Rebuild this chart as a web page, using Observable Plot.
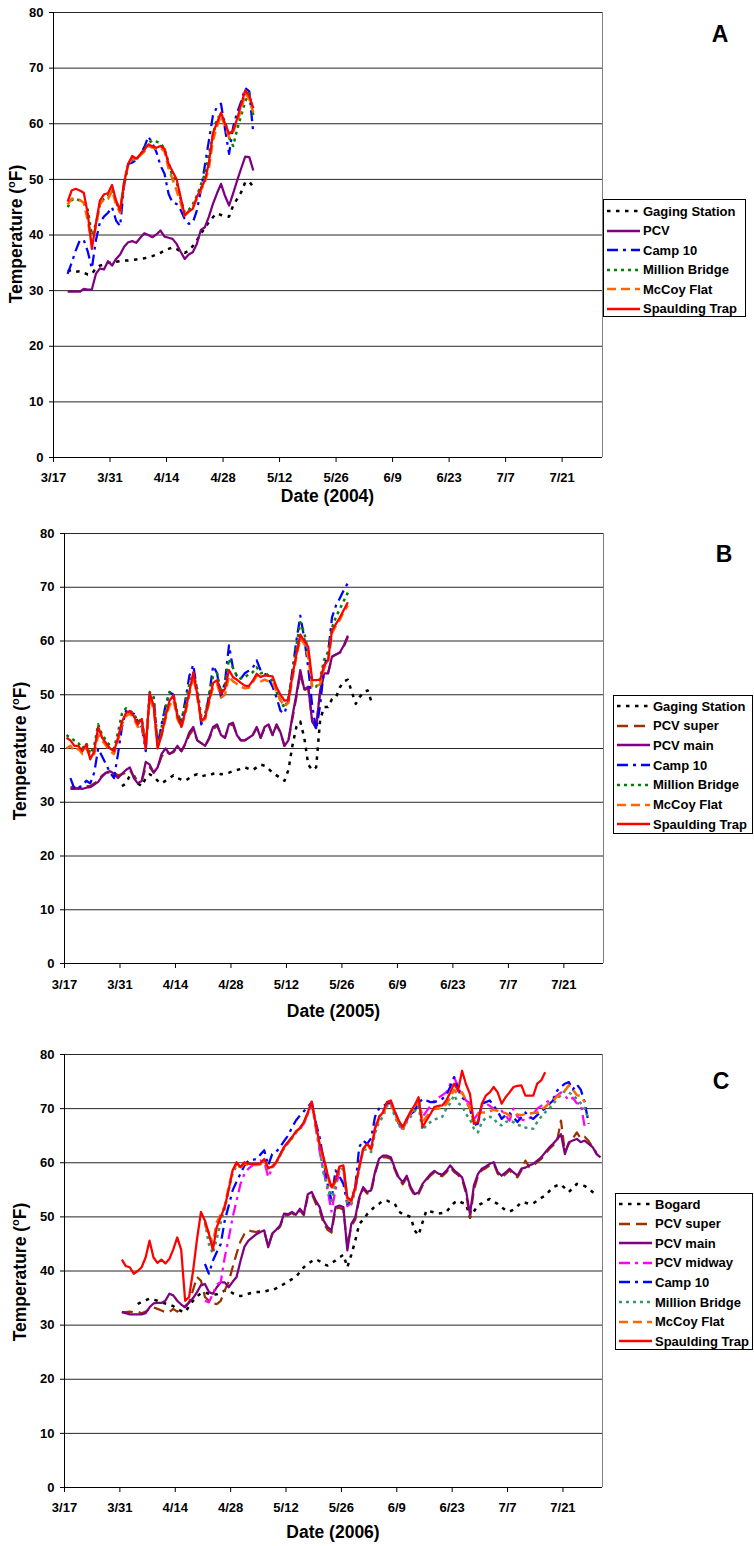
<!DOCTYPE html>
<html>
<head>
<meta charset="utf-8">
<script src="https://cdn.jsdelivr.net/npm/d3@7"></script>
<script src="https://cdn.jsdelivr.net/npm/@observablehq/plot@0.6"></script>
<style>
  html, body { margin: 0; padding: 0; background: #fff; }
  #wrap { position: relative; width: 754px; height: 1546px; overflow: hidden; font-family: "Liberation Sans", Arial, Helvetica, sans-serif; color: #000; }
  .panel { position: absolute; left: 0; }
  .panel svg { display: block; }
  .t { position: absolute; font-weight: bold; white-space: nowrap; line-height: 1; }
  .letter { font-size: 23px; transform: translate(-50%, -50%); }
  .xtitle { font-size: 17.5px; transform: translate(-50%, -50%); }
  .ytitle { font-size: 17.5px; transform: translate(-50%, -50%) rotate(-90deg); }
  .ytitle sup { font-size: 11px; vertical-align: 7px; line-height: 0; }
  .legend { position: absolute; border: 1px solid #000; background: #fff; box-sizing: border-box; }
  .lrow { position: absolute; left: 3px; height: 14px; display: flex; align-items: center; font-weight: bold; font-size: 13px; white-space: nowrap; }
  .lrow svg { flex: none; margin-right: 3px; }
</style>
</head>
<body>
<div id="wrap"></div>
<script>
// ---------------- shared axis values ----------------
const Y_TICKS = [0, 10, 20, 30, 40, 50, 60, 70, 80];
const X_TICKS = ["3/17", "3/31", "4/14", "4/28", "5/12", "5/26", "6/9", "6/23", "7/7", "7/21"];
const X_END = "7/31";

// ---------------- Panel A (2004): daily values from the start date ----------------
const A_gaging_start = "3/20";
const A_gaging = [33.5, 33.7, 33.4, 33.5, 33.2, 32.9, 33, 34, 34.5, 34.7, 35, 35, 35.2, 35.3, 35.4, 35.4, 35.5, 35.6, 35.7, 35.8, 36, 36.2, 36.5, 36.8, 37.2, 37.5, 37.8, 37.5, 37, 36.8, 37.2, 38,
  39, 40.2, 41.3, 42.3, 43.2, 43.9, 43.6, 43.4, 43.3, 45.3, 46.5, 47.7, 49.5, 49.6, 48.6];
const A_pcv_start = "3/20";
const A_pcv = [29.8, 29.8, 29.8, 29.8, 30.3, 30.2, 30.2,
  33, 34, 33.8, 35.3, 34.5, 35.7, 36.5, 37.9, 38.7, 38.9,
  38.6, 39.5, 40.3, 40, 39.6, 40.1, 40.8, 39.7, 39.5, 39.3,
  38.4, 37, 35.7, 36.5, 36.9, 38.4, 40.9, 41.4, 43.3, 45.6,
  47.5, 49.2, 47, 45.3, 47.5, 49.8, 52, 54.1, 54, 51.6];
const A_camp10_start = "3/20";
const A_camp10 = [33, 35, 37.2, 39, 39.1, 37, 34,
  39, 42.3, 43.3, 44, 45, 42.6, 41.6, 49, 52.8, 53,
  53.5, 54.5, 55.8, 57.7, 56.5, 54.9, 52.5, 51, 47.4, 45.8,
  45.6, 44.5, 42.9, 42, 42.2, 44.4, 48, 52.5, 57, 61.5,
  63, 63.6, 59, 54.6, 59.4, 62, 64, 66.4, 65.8, 58.2];
const A_million_start = "3/20";
const A_million = [45, 46.3, 46.5, 46.2, 45.8, 44.5, 40,
  42, 45.5, 46.5, 47, 48, 46, 44, 49, 52.5, 53.5,
  53.5, 54.5, 55.5, 56.5, 57, 56.8, 56.5, 55.5, 53, 50.5,
  49.5, 46.5, 44, 44.5, 45.5, 47, 49, 51, 54.5, 58,
  61, 61.5, 60.5, 57.5, 56, 59, 61.5, 64, 65.5, 61.5];
const A_mccoy_start = "3/20";
const A_mccoy = [45.5, 46.5, 46.5, 46.3, 45.8, 42.5, 38.5,
  41.5, 45.5, 46.5, 46.5, 48, 45.5, 44, 49.5, 52.5, 53.8,
  53.5, 54.3, 55, 56, 55.7, 55.5, 55.7, 55, 52, 50,
  48, 45.8, 43.5, 44.3, 45, 46.5, 48, 49.5, 52, 57,
  59.5, 61.5, 59.5, 57.5, 58.5, 60.5, 62.5, 65.5, 64.5, 62];
const A_spaulding_start = "3/20";
const A_spaulding = [46, 48, 48.3, 48, 47.6, 43.8, 37.5,
  42, 46.2, 47.3, 47.5, 49, 46.2, 44.4, 49.5, 52.8, 54.2,
  53.7, 54.5, 55.3, 56.3, 55.9, 55.7, 56, 55.5, 52.8, 51.4,
  50, 46.8, 43.5, 44.2, 44.7, 46.8, 48.3, 49.8, 53, 58.3,
  60.2, 62, 60, 58.2, 58.8, 60.9, 63.5, 66, 65, 62.8];

// ---------------- Panel B (2005) ----------------
const B_gaging_start = "3/31";
const B_gaging = [33, 33.5, 35, 35, 33.5, 33,
  34.5, 35.2, 34.8, 34, 33.5, 34, 34.5, 35, 34.5, 34.2,
  34, 34.5, 35, 35.2, 34.8, 35, 35, 35.3, 35.5, 35.2,
  35.3, 35.5, 35.8, 36, 36.2, 36.5, 36.2, 36, 36.5, 37,
  36.8, 36.2, 35.5, 35, 34.5, 34, 36, 40.5, 44, 45,
  42, 37, 36, 36.5, 45.3, 47.7, 47.7, 49.2, 49.5, 51.4,
  52.5, 52.8, 50.5, 48.3, 49.6, 50.5, 50.8, 48.6];
const B_pcvsuper_start = "3/18";
const B_pcvsuper = [32.8, 32.8, 32.5, 32.8, 33, 33, 33.5, 34, 35,
  35.5, 35.5, 35.5, 35, 35.2, 35.5, 36, 34.8, 34, 34,
  36.5, 36.5, 35.5, 36.5, 38.5, 39.5, 39, 39.3, 40.3, 39.5,
  40.8, 42.5, 43.5, 41.5, 41, 40.5, 41.8, 43.5, 44.3, 42.5,
  42, 44.3, 44.5, 42.5, 41.5, 41.5, 42, 42.5, 43.8, 42,
  43.8, 44.3, 42.5, 44.3, 43, 40.5, 41.5, 45.5, 49.5, 54,
  50.8, 51.3, 45.2, 44, 50.5, 53.8, 54, 57, 57.5, 57.8,
  59, 60.8];
const B_pcvmain_start = "3/18";
const B_pcvmain = [32.5, 32.5, 32.6, 32.5, 32.7, 32.8, 33.3, 33.8, 34.8,
  35.5, 35.8, 35.3, 34.5, 35.3, 36, 36.5, 34.5, 33.5, 34,
  37.5, 37, 35.5, 36.5, 39, 40, 39, 39.5, 40.5, 39.5,
  41, 43, 44, 41.5, 41, 40.5, 42, 44, 44.5, 42.5,
  42, 44.5, 44.8, 42.5, 41.5, 41.5, 42, 42.5, 44, 42,
  44, 44.5, 42.5, 44.5, 43, 40.5, 41.5, 46, 50, 54.6,
  51, 51.5, 45, 43.8, 50.8, 54, 54, 57.1, 57.5, 57.9,
  59.2, 61];
const B_camp10_start = "3/18";
const B_camp10 = [34.5, 32.5, 32.8, 33, 34, 33.5, 35.5, 40, 38.5,
  37, 35.5, 34.5, 39, 44, 47, 46.5, 46.5, 45, 44,
  39.5, 50.2, 49.5, 40.5, 44.5, 48, 50.5, 50, 46, 45,
  49, 53.5, 55.6, 50.5, 44.5, 46, 50, 55.4, 54, 49.5,
  52.5, 59.2, 55, 53.5, 53, 54, 54.5, 55, 56.4, 54.5,
  54, 53, 51.5, 49.5, 47, 46.5, 49, 54.5, 60, 64.7,
  60.5, 55, 48, 43.5, 48, 55, 57.7, 64.4, 66.6, 68,
  69.5, 70.8];
const B_million_start = "3/17";
const B_million = [42.5, 42, 41.5, 41, 40, 41, 39, 40.5, 44.5, 42.5,
  41.5, 40.5, 40, 43, 46.5, 47.5, 47, 46.5, 45, 45.5,
  40.5, 50.5, 49.5, 41, 44, 47.5, 50.5, 50, 46.5, 45,
  48.5, 52, 54, 51, 46, 46.5, 50, 53.5, 54, 50.5,
  52, 56.7, 55, 53.5, 53, 53.3, 53.8, 54.2, 55.1, 54,
  54.2, 53.5, 52.5, 50.5, 49, 47.5, 49.5, 54, 59, 63.5,
  61.5, 58, 51.5, 51.5, 53, 56.5, 58, 62.5, 64.5, 66,
  67.5, 69];
const B_mccoy_start = "3/17";
const B_mccoy = [40, 40.5, 39.5, 40, 39, 40, 38.5, 39, 42.5, 41.5,
  40.5, 39.5, 39, 41.5, 44.5, 46, 46.5, 45.5, 44, 44.5,
  40, 49, 47.5, 40.5, 42.5, 45.5, 48, 49, 45.5, 44,
  46.5, 50, 53.5, 49.5, 45, 45.5, 48.5, 51.5, 52, 49.5,
  50, 53.5, 52.5, 52, 51.5, 51.2, 51.3, 52.3, 53.5, 52.5,
  52.8, 52.5, 52.5, 50.5, 49, 47.8, 48.5, 53, 57, 60.5,
  59.5, 57, 51.4, 51.5, 52, 55, 56, 61.5, 62.8, 64,
  65.5, 66.6];
const B_spaulding_start = "3/17";
const B_spaulding = [42, 41.5, 40.5, 40.5, 39.5, 40.8, 38, 39.5, 44, 42,
  41, 40, 39.5, 42, 45, 46.6, 47, 46, 44.5, 45.5,
  40, 50.3, 48, 40, 42.5, 46, 48.9, 49.9, 46, 44,
  47, 50.5, 54.2, 50, 45.2, 45.8, 49, 52.2, 52.7, 50.2,
  51.1, 54.6, 53.3, 52.8, 52.2, 51.7, 51.6, 52.6, 53.9, 53.3,
  53.6, 53.5, 53.4, 51.4, 50, 48.9, 49, 53.5, 57.5, 61.2,
  60, 58.9, 52.7, 52.7, 52.8, 55.5, 56.4, 62, 63.2, 64.4,
  65.8, 67.2];

// ---------------- Panel C (2006) ----------------
const C_bogard_start = "4/4";
const C_bogard = [33.9, 34.3,
  34.6, 34.9, 34.7, 34.5, 34.2, 34, 33.8, 33.5, 33, 32.6,
  32.4, 33.5, 34.5, 35.3, 35.9, 36, 35.8, 35.6, 35.7, 36,
  36.4, 36.4, 35.9, 35.5, 35.4, 35.5, 35.8, 36, 36.1, 36.1,
  36.2, 36.4, 36.4, 36.8, 37.2, 37.6, 38, 38.5, 38.9, 39.8,
  40.7, 41.3, 41.8, 42.2, 41.8, 41.3, 41, 41.5, 41.9, 42.5,
  43, 40.7, 43, 45.6, 48.7, 49.5, 50.5, 51.2, 52, 52.4,
  53, 53, 52.7, 52.4, 51, 50.5, 50.3, 50, 47.5, 46.6,
  49, 51.2, 51, 50.8, 50.6, 50.7, 50.9, 51.8, 52.6, 53,
  52.6, 52.4, 49.9, 51, 52.1, 52.5, 53, 53.3, 52.8, 52.4,
  51.8, 51.2, 51, 51.3, 52, 52.7, 52.6, 52.4, 52.5, 53,
  53.5, 53.9, 54.7, 55.5, 55.8, 56, 55.3, 54.6, 55.3, 56.1,
  55.9, 55.7, 55.2, 54.6, 54.1];
const C_pcvsuper_start = "3/31";
const C_pcvsuper = [32.4, 32.4, 32.5, 32.4, 32.5, 32.2,
  32.5, 33, 33.3, 33, 32.7, 32.4, 32.4, 33, 32.5, 33,
  33.5, 34.2, 36.5, 38.9, 38.2, 35.2, 34.5, 34, 33.9, 34.5,
  36.4, 38, 40.7, 43.2, 45.5, 46.9, 47.5, 47.3, 47.2, 47.5,
  47.3, 44.5, 46.7, 47.4, 48.2, 50.3, 50.3, 50.7, 50.2, 51.2,
  50.3, 53.8, 54.3, 52.5, 51.2, 48.8, 47.6, 47.1, 51.5, 51.7,
  51.3, 44.5, 48.3, 49.5, 53.2, 55.2, 54.3, 54.6, 58, 60.4,
  61, 61, 60.7, 58.7, 57, 56, 57.2, 55.2, 53.9, 54.2,
  55.8, 56.8, 57.6, 58.2, 57.7, 57.5, 58.2, 59.2, 58.3, 57.7,
  57, 54.3, 49.8, 55, 57.5, 58.6, 59, 59.5, 59.8, 58,
  57.3, 57.9, 58.6, 57.9, 57.3, 58.6, 60.4, 59.2, 59.5, 60.1,
  60.7, 61.6, 62.5, 63.2, 64, 67.8, 62, 63.5, 64.5, 65.6,
  64.5, 64.8, 64, 62.9, 61.8];
const C_pcvmain_start = "3/31";
const C_pcvmain = [32.4, 32.2, 32, 32, 32, 32,
  32.2, 33.3, 34, 34.1, 34.1, 34.5, 35.8, 35.5, 34.5, 33.8,
  33.3, 34.2, 35, 36.1, 37.4, 37.6, 36.1, 35.8, 37, 37.9,
  37.9, 37, 38, 38.9, 41.9, 44.5, 45.6, 46.2, 46.8, 47.2,
  47.5, 44.4, 46.9, 47.6, 48.4, 50.6, 50.5, 50.9, 50.4, 51.5,
  50.5, 54.2, 54.6, 53, 51.8, 49.3, 48.1, 47.5, 51.8, 52.1,
  51.8, 43.8, 48.7, 49.9, 53.6, 55.5, 54.6, 54.9, 58.3, 60.7,
  61.3, 61.3, 61, 59, 57.3, 56.4, 57.6, 55.5, 54.2, 54.5,
  56.1, 57, 57.9, 58.5, 58, 57.8, 58.5, 59.5, 58.6, 58,
  57.3, 54.9, 50.5, 55.8, 57.9, 58.9, 59.3, 59.8, 60.1, 58.3,
  57.6, 58.2, 58.9, 58.2, 57.6, 58.9, 59.1, 59.5, 59.8, 60.4,
  61, 61.9, 62.8, 63.5, 64.3, 65.3, 61.6, 63.8, 64.1, 64.4,
  63.8, 64.1, 63.5, 62.9, 61.6, 61];
const C_midway_start = "4/21";
const C_midway = [34.5, 34.2, 35.8, 37.5, 38,
  42.5, 46, 49.9, 53, 56.1, 58, 58.9, 59.5, 60.1, 60.4,
  60.2, 57.3, 59, 60, 61.5, 62.9, 63.8, 64.7, 65.5, 66.4,
  67.2, 69, 71, 66.5, 62, 58.5, 55, 51, 55, 58.5,
  59, 52, 52.5, 55, 59, 62.3, 63.5, 62.5, 66.5, 68.5,
  69.5, 71, 71.3, 69.5, 67.5, 66, 67.8, 69.2, 70.3, 71.5,
  68.5, 69.5, 70.5, 71.5, 72, 72.5, 73, 74.5, 75.8, 74,
  72.5, 71.5, 71, 68, 69, 70.5, 71, 70.5, 70, 69.5,
  69.6, 68.7, 67.8, 70, 68.5, 68, 67.8, 68.2, 69, 70,
  70.5, 71, 71.5, 72, 72.4, 73, 72.4, 71.5, 72, 71,
  70.9, 66.6];
const C_camp10_start = "4/21";
const C_camp10 = [41.3, 39.5, 41.9, 43.5, 45,
  49.3, 52, 54.9, 56.5, 58, 59.5, 60.4, 60.5, 60.7, 61.5,
  62.3, 59.5, 61.6, 62, 62.9, 64, 65, 66.5, 67.8, 68.7,
  69.5, 70.3, 71.2, 67.5, 64.7, 60.4, 56.1, 53, 58.6, 57.5,
  56.1, 52.4, 53, 55.5, 62.9, 64.1, 63.5, 64.5, 68.5, 70,
  70.5, 70.9, 71, 69, 67.2, 66.8, 68, 69, 69.6, 71,
  71.8, 71.5, 71.2, 71.2, 71.5, 71.8, 72.5, 74, 75.8, 73.5,
  72, 71.5, 70, 66.9, 67.2, 70.9, 71.2, 71.5, 70.5, 69.5,
  68.1, 68.8, 69.2, 68.4, 67.5, 68.5, 69.3, 68.5, 68.1, 68.8,
  69.5, 70, 70.8, 71.5, 73.3, 74, 74.6, 74.9, 73.5, 74.5,
  73.5, 71.2, 67.2];
const C_million_start = "4/21";
const C_million = [49, 45, 43.2, 46, 49,
  51.5, 55, 58, 59.5, 59.2, 59.8, 59.7, 59.7, 59.7, 59.8,
  60.5, 58.8, 59.2, 60, 61.3, 62.7, 63.6, 64.5, 65.6, 66.2,
  67.3, 69, 71, 67, 62.5, 58, 55.5, 53, 56, 58.5,
  59, 52.5, 52.3, 55, 59, 62.3, 62.5, 62, 65.5, 67.5,
  68.5, 70.5, 70.8, 68.5, 67, 66, 67.5, 68.5, 69.5, 70.5,
  66, 67, 67.5, 68, 68.2, 68.5, 70, 71, 72.5, 71,
  70.5, 69, 68, 66.3, 65.6, 67.5, 68.3, 68.5, 68.2, 67.2,
  66.9, 67.5, 67.8, 67.5, 67, 66.8, 66.5, 66.3, 66.3, 67.5,
  68.5, 69.3, 70, 70.8, 71.8, 72.5, 73.3, 73, 72.5, 71.8,
  71, 70, 68];
const C_mccoy_start = "4/21";
const C_mccoy = [48.5, 47, 45, 49, 50.5,
  52, 55.5, 58.4, 59.8, 59, 59.9, 59.6, 59.6, 59.6, 59.7,
  60.5, 58.8, 59.1, 60, 61.4, 62.8, 63.7, 64.6, 65.7, 66.3,
  67.4, 69.1, 71.2, 67, 63.2, 60.5, 57.5, 55, 56.5, 59,
  59.3, 53.3, 52.8, 55.3, 59, 62.5, 63.3, 62.4, 66, 68.1,
  69, 70.8, 71, 69, 67.4, 66.3, 67.8, 69.2, 70.2, 71.5,
  67.5, 68.5, 69.5, 70, 70, 70.2, 70.8, 72, 73.5, 72.5,
  73, 71.5, 70, 67.5, 69, 69.3, 69.3, 69.5, 69.8, 69.6,
  69.3, 69.2, 68.7, 68.7, 68.9, 68.8, 69, 69.1, 69.2, 69.3,
  69.8, 70.3, 71, 71.5, 72.2, 72.7, 73.3, 74.3, 73.5, 72.5,
  72.3, 71.2];
const C_spaulding_start = "3/31";
const C_spaulding = [42.1, 40.9, 40.7, 39.5, 40, 40.7,
  42.5, 45.6, 42.5, 41.5, 42.1, 41.4, 42.2, 44, 46.2, 43.9,
  34.5, 35.2, 40, 45.9, 50.9, 49.3, 46.9, 43.9, 48.1, 50,
  51.8, 55, 58.6, 60.1, 59.2, 60.1, 59.8, 59.8, 59.8, 59.9,
  60.7, 59, 59.3, 60.1, 61.5, 62.9, 63.8, 64.7, 65.8, 66.4,
  67.5, 69.3, 71.3, 67.2, 63.5, 61, 57.9, 55.5, 56.7, 59.3,
  59.5, 53.6, 53, 55.5, 59.2, 62.6, 63.5, 62.6, 66.3, 68.4,
  69.3, 71.2, 71.5, 69.5, 67.8, 66.6, 68.1, 69.5, 70.6, 72.1,
  66.6, 67.8, 69, 70.3, 70.5, 70.6, 71.5, 73, 74.6, 73.3,
  77, 74.5, 72.7, 67.2, 67.5, 70.9, 72.4, 73, 74, 73,
  70.9, 72.1, 73, 74, 74.2, 74.3, 72.4, 72.4, 72.4, 74.6,
  75.2, 76.7];

// ---------------- styles (not data) ----------------
const LINE_STYLE = {
  "Gaging Station": { stroke: "#000000", w: 2.5, dash: "3.5,5.5" },
  "Bogard": { stroke: "#000000", w: 2.5, dash: "3.5,5.5" },
  "PCV super": { stroke: "#993300", w: 2.25, dash: "11,6" },
  "PCV": { stroke: "#800080", w: 2.25, dash: null },
  "PCV main": { stroke: "#800080", w: 2.25, dash: null },
  "PCV midway": { stroke: "#FF00FF", w: 2.25, dash: "11,5,3,5" },
  "Camp 10": { stroke: "#0000FF", w: 2.25, dash: "11,5,3,5" },
  "Million Bridge": { stroke: "#008000", w: 2.5, dash: "3,4" },
  "McCoy Flat": { stroke: "#FF6600", w: 2.5, dash: "9,5" },
  "Spaulding Trap": { stroke: "#FF0000", w: 2.25, dash: null }
};

const PANELS = [
  {
    year: 2004, letter: "A", top: 0, height: 520, mt: 12, mb: 63, ml: 53, mr: 152, tickPad: 10,
    series: [
      ["Gaging Station", A_gaging_start, A_gaging],
      ["PCV", A_pcv_start, A_pcv],
      ["Camp 10", A_camp10_start, A_camp10],
      ["Million Bridge", A_million_start, A_million],
      ["McCoy Flat", A_mccoy_start, A_mccoy],
      ["Spaulding Trap", A_spaulding_start, A_spaulding]
    ],
    legend: { left: 603, top: 199, w: 143, h: 118, row0: 11, step: 19.5 },
    letterPos: [720, 34], ytitle: [17, 234], xtitleY: 497
  },
  {
    year: 2005, letter: "B", top: 520, height: 520, mt: 13, mb: 77, ml: 64, mr: 151, tickPad: 11,
    series: [
      ["Gaging Station", B_gaging_start, B_gaging],
      ["PCV super", B_pcvsuper_start, B_pcvsuper],
      ["PCV main", B_pcvmain_start, B_pcvmain],
      ["Camp 10", B_camp10_start, B_camp10],
      ["Million Bridge", B_million_start, B_million],
      ["McCoy Flat", B_mccoy_start, B_mccoy],
      ["Spaulding Trap", B_spaulding_start, B_spaulding]
    ],
    legend: { left: 613, top: 695, w: 140, h: 139, row0: 10, step: 19.7 },
    letterPos: [724, 554], ytitle: [21, 751], xtitleY: 1012
  },
  {
    year: 2006, letter: "C", top: 1040, height: 506, mt: 14, mb: 59, ml: 64, mr: 152, tickPad: 10,
    greenOverride: "#339966",
    series: [
      ["Bogard", C_bogard_start, C_bogard],
      ["PCV super", C_pcvsuper_start, C_pcvsuper],
      ["PCV main", C_pcvmain_start, C_pcvmain],
      ["PCV midway", C_midway_start, C_midway],
      ["Camp 10", C_camp10_start, C_camp10],
      ["Million Bridge", C_million_start, C_million],
      ["McCoy Flat", C_mccoy_start, C_mccoy],
      ["Spaulding Trap", C_spaulding_start, C_spaulding]
    ],
    legend: { left: 615, top: 1193, w: 138, h: 157, row0: 10, step: 19.6 },
    letterPos: [721, 1081], ytitle: [21, 1272], xtitleY: 1533
  }
];

// ---------------- drawing ----------------
const DAY = 86400000;
const md = (s, y) => { const [m, d] = s.split("/").map(Number); return new Date(Date.UTC(y, m - 1, d)); };
// Excel date axis places each daily value in the middle of its day slot
const toRows = (start, vals, year) => {
  const t0 = md(start, year).getTime();
  return vals.map((v, i) => ({ t: new Date(t0 + (i + 0.5) * DAY), v })).filter(r => r.v != null);
};
const styleFor = (name, p) => {
  const s = Object.assign({}, LINE_STYLE[name]);
  if (name === "Million Bridge" && p.greenOverride) s.stroke = p.greenOverride;
  return s;
};

const wrap = document.getElementById("wrap");

function addText(cls, html, x, y) {
  const el = document.createElement("div");
  el.className = "t " + cls;
  el.innerHTML = html;
  el.style.left = x + "px";
  el.style.top = y + "px";
  wrap.appendChild(el);
  return el;
}

for (const p of PANELS) {
  const x0 = md(X_TICKS[0], p.year);
  const x1 = md(X_END, p.year);
  const xTicks = X_TICKS.map(s => md(s, p.year));
  const marks = [
    Plot.ruleY(Y_TICKS, { stroke: "#000", strokeWidth: 1, strokeOpacity: 0.85 }),
    Plot.ruleX([x1], { stroke: "#808080", strokeWidth: 1 }),
    Plot.ruleX([x0], { stroke: "#000", strokeWidth: 1 }),
    Plot.ruleY([0], { stroke: "#000", strokeWidth: 1.2 })
  ];
  for (const [name, start, vals] of p.series) {
    const st = styleFor(name, p);
    const opts = { x: "t", y: "v", stroke: st.stroke, strokeWidth: st.w, strokeLinejoin: "round", strokeLinecap: "butt" };
    if (st.dash) opts.strokeDasharray = st.dash;
    marks.push(Plot.line(toRows(start, vals, p.year), opts));
  }
  const svg = Plot.plot({
    width: 754,
    height: p.height,
    marginTop: p.mt,
    marginBottom: p.mb,
    marginLeft: p.ml,
    marginRight: p.mr,
    style: { fontFamily: "'Liberation Sans', Arial, Helvetica, sans-serif", fontSize: "13px", fontWeight: "bold", color: "#000", background: "transparent", overflow: "visible" },
    x: { type: "utc", domain: [x0, x1], ticks: xTicks, tickFormat: d => `${d.getUTCMonth() + 1}/${d.getUTCDate()}`, tickSize: 5, tickPadding: p.tickPad, label: null },
    y: { domain: [0, 80], ticks: Y_TICKS, tickSize: 4, tickPadding: 6, label: null },
    marks
  });
  const holder = document.createElement("div");
  holder.className = "panel";
  holder.style.top = p.top + "px";
  holder.appendChild(svg);
  wrap.appendChild(holder);

  // titles
  addText("letter", p.letter, p.letterPos[0], p.letterPos[1]);
  addText("xtitle", `Date (${p.year})`, (p.ml + 754 - p.mr) / 2, p.xtitleY);
  addText("ytitle", "Temperature (<sup>o</sup>F)", p.ytitle[0], p.ytitle[1]);

  // legend
  const L = p.legend;
  const box = document.createElement("div");
  box.className = "legend";
  Object.assign(box.style, { left: L.left + "px", top: L.top + "px", width: L.w + "px", height: L.h + "px" });
  p.series.forEach(([name], i) => {
    const st = styleFor(name, p);
    const row = document.createElement("div");
    row.className = "lrow";
    row.style.top = (L.row0 + i * L.step - 7) + "px";
    const ns = "http://www.w3.org/2000/svg";
    const s = document.createElementNS(ns, "svg");
    s.setAttribute("width", "33");
    s.setAttribute("height", "6");
    const ln = document.createElementNS(ns, "line");
    ln.setAttribute("x1", "0"); ln.setAttribute("x2", "33");
    ln.setAttribute("y1", "3"); ln.setAttribute("y2", "3");
    ln.setAttribute("stroke", st.stroke);
    ln.setAttribute("stroke-width", Math.max(st.w, 2.5));
    if (st.dash) ln.setAttribute("stroke-dasharray", st.dash);
    s.appendChild(ln);
    row.appendChild(s);
    const sp = document.createElement("span");
    sp.textContent = name;
    row.appendChild(sp);
    box.appendChild(row);
  });
  wrap.appendChild(box);
}
</script>
</body>
</html>
